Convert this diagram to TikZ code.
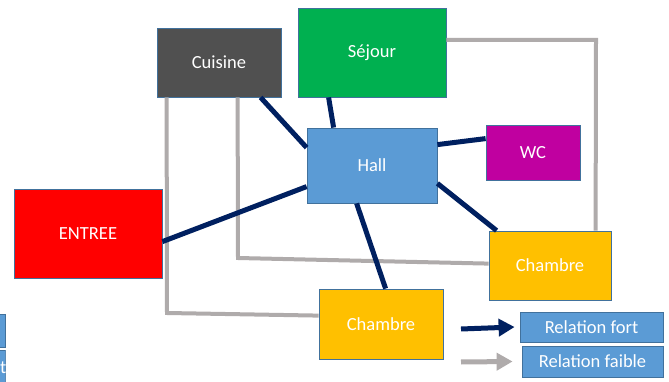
\documentclass[tikz,border=0pt]{standalone}
\usepackage{fontspec}
\setmainfont{Carlito}
\usetikzlibrary{arrows.meta,calc}
\definecolor{bordc}{HTML}{41719C}
\definecolor{navy}{HTML}{002060}
\definecolor{weakc}{HTML}{AFABAB}
\definecolor{cuisc}{HTML}{505050}
\definecolor{sejc}{HTML}{00B050}
\definecolor{hallc}{HTML}{5B9BD5}
\definecolor{wcc}{HTML}{C000A0}
\definecolor{entc}{HTML}{FF0000}
\definecolor{chc}{HTML}{FFC000}
\tikzset{
  room/.style={draw=bordc, line width=0.8pt, text=white, inner sep=0pt,
    font=\fontsize{18.5}{22}\selectfont},
  strong/.style={draw=navy, line width=5pt},
  weak/.style={draw=weakc, line width=4pt},
  legarrow/.style={line width=5pt, -{Triangle[length=16pt,width=17pt]}},
}
\begin{document}
\begin{tikzpicture}[x=1pt,y=-1pt]
\useasboundingbox (0,0) rectangle (669,382);
% nodes
\node[room, fill=cuisc, minimum width=124pt, minimum height=69pt] (cuisine) at (219,62.5) {Cuisine};
\node[room, fill=sejc, minimum width=148pt, minimum height=89pt] (sejour) at (372,52.5) {Séjour};
\node[room, fill=hallc, minimum width=130pt, minimum height=75pt] (hall) at (372,165.5) {Hall};
\node[room, fill=wcc, minimum width=94pt, minimum height=55pt] (wc) at (533,152.5) {WC};
\node[room, fill=entc, minimum width=148pt, minimum height=89pt] (entree) at (88,233.5) {ENTREE};
\node[room, fill=chc, minimum width=122pt, minimum height=69pt] (chR) at (550,265.5) {Chambre};
\node[room, fill=chc, minimum width=124pt, minimum height=70pt] (chB) at (381,324) {Chambre};
\node[room, fill=hallc, minimum width=143pt, minimum height=30pt] (lfort) at (591.5,327) {Relation fort};
\node[room, fill=hallc, minimum width=141pt, minimum height=31pt] (lfaible) at (592.5,361.5) {Relation faible};
% partial boxes at left edge
\node[room, fill=hallc, minimum width=40pt, minimum height=33pt] (pa) at (-15,330.5) {};
\begin{scope}
\clip (-40,350) rectangle (5.5,384);
\node[room, fill=hallc, minimum width=45pt, minimum height=33pt] (pb) at (-17,366.5) {};
\node[font=\fontsize{18.5}{22}\selectfont, text=white, inner sep=0pt, anchor=base west] (pt) at (0,373) {t};
\end{scope}
% weak relations
\draw[weak] (sejour.east |- 0,40) -- (596,40) -- ($(chR.north west)+(107,0)$);
\draw[weak] ($(cuisine.south west)+(81,0)$) -- (238,258) -- ($(chR.north west)+(0,33)$);
\draw[weak] ($(cuisine.south west)+(10,0)$) -- (167,313) -- ($(chB.north west)+(0,27)$);
% strong relations
\draw[strong] ($(cuisine.south west)+(104,0)$) -- ($(hall.north west)+(0,20)$);
\draw[strong] ($(sejour.south west)+(31,0)$) -- ($(hall.north west)+(27,0)$);
\draw[strong] ($(hall.north east)+(0,17)$) -- ($(wc.north west)+(0,14)$);
\draw[strong] ($(entree.north east)+(0,53)$) -- ($(hall.north west)+(0,59)$);
\draw[strong] ($(hall.south east)+(0,-20)$) -- ($(chR.north west)+(8,0)$);
\draw[strong] ($(hall.south west)+(50,0)$) -- ($(chB.north west)+(67,0)$);
% legend arrows
\coordinate (af0) at (461,329);
\coordinate (ab0) at (461,362);
\draw[navy, legarrow] (af0) -- ([xshift=-5pt]lfort.west);
\draw[weakc, legarrow] (ab0) -- ([xshift=-9pt]lfaible.west);
\end{tikzpicture}
\end{document}
